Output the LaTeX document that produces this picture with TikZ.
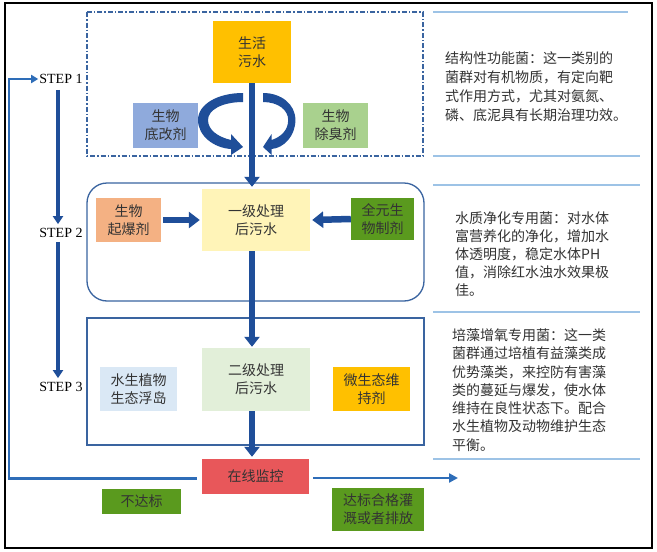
\documentclass[tikz,border=0pt]{standalone}
\usepackage{fontspec}
\setmainfont{Liberation Serif}
\newfontfamily\cjk{Noto Sans CJK SC}
\usetikzlibrary{arrows.meta,calc}
\definecolor{arrowblue}{HTML}{1F4E99}
\definecolor{loopblue}{HTML}{2E6DB8}
\definecolor{frameblue}{HTML}{3A64A0}
\definecolor{sepblue}{HTML}{9DC3E6}
\definecolor{cOrange}{HTML}{FFC000}
\definecolor{cLav}{HTML}{8FAADC}
\definecolor{cLGreen}{HTML}{A9D18E}
\definecolor{cSalmon}{HTML}{F4B183}
\definecolor{cPaleY}{HTML}{FFF4B8}
\definecolor{cGreen}{HTML}{5A9A1E}
\definecolor{cPaleB}{HTML}{DAE8F5}
\definecolor{cPaleG}{HTML}{E2EFD9}
\definecolor{cRed}{HTML}{E8575A}
\definecolor{txt}{HTML}{333333}
\begin{document}
\begin{tikzpicture}[x=1pt,y=-1pt,
  box/.style={rectangle, inner sep=0pt, align=center, text=txt,
    font=\cjk\fontsize{14}{18}\selectfont},
  note/.style={anchor=west, inner sep=0pt, align=left, text=txt,
    font=\cjk\fontsize{14}{18.3}\selectfont},
  steplabel/.style={inner sep=0pt, text=black, font=\fontsize{14}{16}\selectfont},
  bigarrow/.style={draw=arrowblue, line width=6pt, -{Triangle[length=10pt,width=15pt]}},
  sidearrow/.style={draw=arrowblue, line width=6.5pt, -{Triangle[length=11pt,width=16pt]}},
  steparrow/.style={draw=arrowblue, line width=4pt, -{Triangle[length=8pt,width=10pt]}},
  loopline/.style={draw=loopblue, line width=2.5pt},
  sep/.style={draw=sepblue, line width=1.5pt},
  frame/.style={draw=frameblue, line width=1.3pt}
]
\useasboundingbox (0,0) rectangle (657,552);
\fill[white] (0,0) rectangle (657,552);
% outer border
\draw[black, line width=1.5pt] (5,3) rectangle (652,548);

% stage frames
\draw[frame, dash pattern=on 5pt off 2pt on 1.5pt off 2pt] (87,12) rectangle (423,156);
\draw[frame, rounded corners=20pt] (87,183) rectangle (424,301);
\draw[frame] (87,318) rectangle (424,445);

% separators on the right
\draw[sep] (433,12) -- (628,12);
\draw[sep] (433,156) -- (640,156);
\draw[sep] (433,185) -- (640,185);
\draw[sep] (433,312) -- (640,312);
\draw[sep] (433,459) -- (640,459);

% notes
\node[note, font=\cjk\fontsize{14}{19}\selectfont] (n1) at (445,86.5) {结构性功能菌：这一类别的\\菌群对有机物质，有定向靶\\式作用方式，尤其对氨氮、\\磷、底泥具有长期治理功效。};
\node[note, font=\cjk\fontsize{14}{18}\selectfont] (n2) at (455,254) {水质净化专用菌：对水体\\富营养化的净化，增加水\\体透明度，稳定水体PH\\值，消除红水浊水效果极\\佳。};
\node[note] (n3) at (452,390) {培藻增氧专用菌：这一类\\菌群通过培植有益藻类成\\优势藻类，来控防有害藻\\类的蔓延与爆发，使水体\\维持在良性状态下。配合\\水生植物及动物维护生态\\平衡。};

% nodes
\node[box, fill=cOrange, minimum width=78pt, minimum height=62pt] (sh) at (252,52) {生活\\污水};
\node[box, fill=cLav, minimum width=65pt, minimum height=45pt] (dg) at (165.5,125.5) {生物\\底改剂};
\node[box, fill=cLGreen, minimum width=65pt, minimum height=45pt] (cc) at (335.5,125.5) {生物\\除臭剂};
\node[box, fill=cSalmon, minimum width=65pt, minimum height=44pt] (qb) at (128.5,220) {生物\\起爆剂};
\node[box, fill=cPaleY, minimum width=108pt, minimum height=62pt] (yj) at (256,220) {一级处理\\后污水};
\node[box, fill=cGreen, minimum width=63pt, minimum height=42pt] (qy) at (382.5,219) {全元生\\物制剂};
\node[box, fill=cPaleB, minimum width=77pt, minimum height=44pt] (fd) at (138.5,389) {水生植物\\生态浮岛};
\node[box, fill=cPaleG, minimum width=108pt, minimum height=63pt] (ej) at (256,379.5) {二级处理\\后污水};
\node[box, fill=cOrange, minimum width=77pt, minimum height=44pt] (ws) at (371.5,389) {微生态维\\持剂};
\node[box, fill=cRed, minimum width=107pt, minimum height=35pt] (jk) at (255.5,476.5) {在线监控};
\node[box, fill=cGreen, minimum width=79pt, minimum height=25pt] (bd) at (141.5,501.5) {不达标};
\node[box, fill=cGreen, minimum width=92pt, minimum height=43pt] (db) at (378,509.5) {达标合格灌\\溉或者排放};

% step labels
\node[steplabel] (s1) at (61,79) {STEP 1};
\node[steplabel] (s2) at (61,233) {STEP 2};
\node[steplabel] (s3) at (61,387) {STEP 3};

% curved arrows (left and right)
\def\curvearrow{%
  (0,0) .. controls (-25,0) and (-45,11) .. (-45,27)
  .. controls (-45,43) and (-29,55) .. (-12,56)
  -- (-12,62) -- (0,54) -- (-12,41) -- (-12,47)
  .. controls (-25,44) and (-35,37) .. (-35,27)
  .. controls (-35,17) and (-21,9) .. (0,9) -- cycle}
\begin{scope}[shift={(243,93)}]
  \fill[arrowblue] \curvearrow;
\end{scope}
\begin{scope}[shift={(263,93)}, xscale=-0.72]
  \fill[arrowblue] \curvearrow;
\end{scope}

% main flow arrows
\draw[bigarrow] ($(sh.south)+(0,0)$) -- ($(sh.south |- yj.north)+(0,-2)$);
\draw[bigarrow] (sh.south |- yj.south) -- ($(sh.south |- ej.north)+(0,-1)$);
\draw[bigarrow] (sh.south |- ej.south) -- ($(sh.south |- jk.north)+(0,-2)$);
\draw[sidearrow] ($(qb.east)+(2,0)$) -- ($(yj.west)+(-2,0)$);
\draw[sidearrow] (qy.west) -- ($(yj.east)+(2,0)$);

% step arrows
\draw[steparrow] ($(s1.south)+(-3,6)$) -- ($(s2.north)+(-3,-4)$);
\draw[steparrow] ($(s2.south)+(-3,4)$) -- ($(s3.north)+(-3,-4)$);

% feedback loop and output
\coordinate (lc) at (9,79);
\coordinate (outend) at (458,478);
\draw[loopline, -{Triangle[length=7pt,width=8pt]}] ($(jk.west)+(-5,2)$) -| (lc) -- ($(s1.west)+(-1,0)$);
\draw[loopline, -{Triangle[length=9pt,width=9pt]}] ($(jk.east)+(4,1.5)$) -- (outend);
\end{tikzpicture}
\end{document}
